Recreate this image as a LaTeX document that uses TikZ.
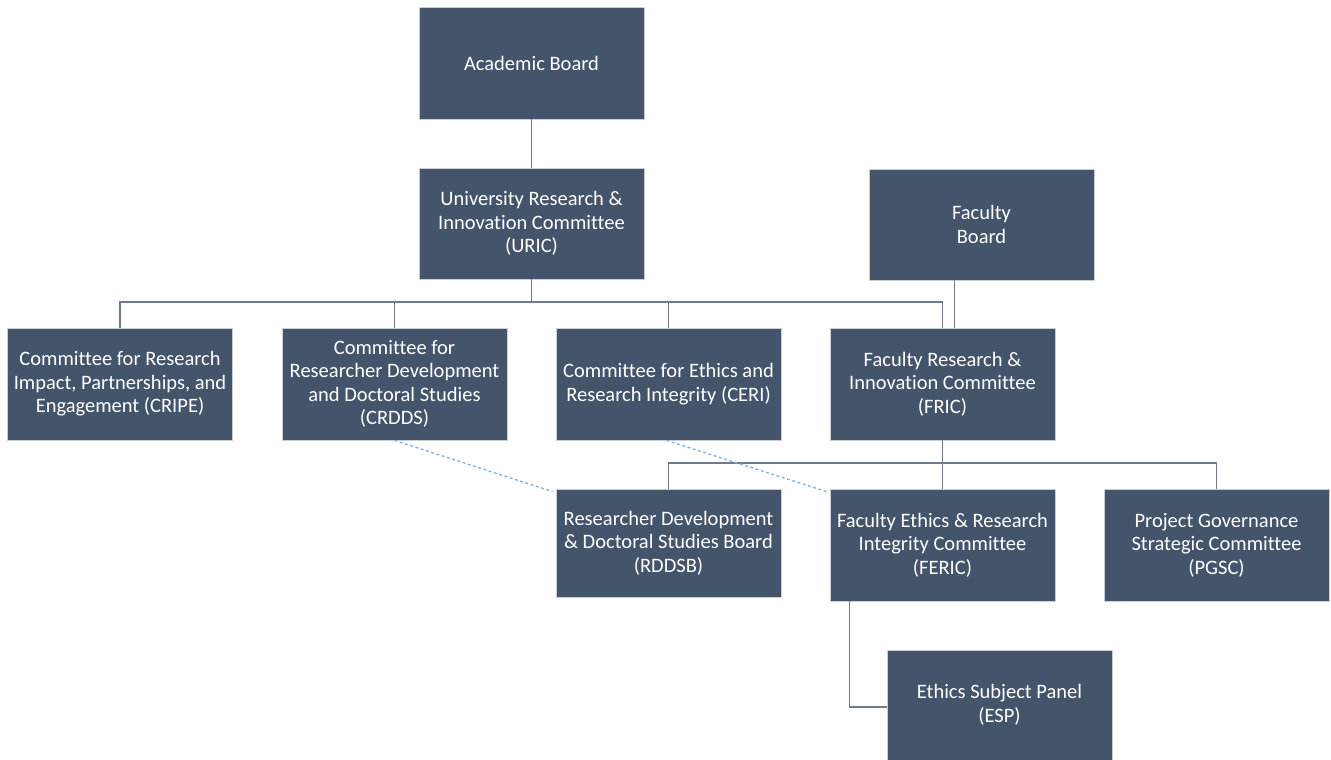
\documentclass[tikz,border=0pt]{standalone}
\usepackage{fontspec}
\setmainfont{Carlito}[Ligatures=NoCommon]
\usetikzlibrary{calc}
\definecolor{boxfill}{HTML}{44546A}
\definecolor{boxedge}{HTML}{C9CED6}
\definecolor{linec}{HTML}{6F7B8D}
\definecolor{dotc}{HTML}{7FB2E2}
\tikzset{
  orgbox/.style={draw=boxedge, line width=0.8pt, fill=boxfill, text=white, minimum width=225pt, minimum height=112pt, inner sep=0pt, align=center, font=\fontsize{20.5}{23.5}\selectfont},
  conn/.style={draw=linec, line width=1.6pt},
  dotconn/.style={draw=dotc, line width=1.3pt, dash pattern=on 3pt off 2.5pt}
}
\begin{document}
\begin{tikzpicture}[x=1pt,y=-1pt]
\useasboundingbox (0,0) rectangle (1331,760);
\begin{scope}
\clip (0,0) rectangle (1331,760);
\node[orgbox] (ab) at (531.5,63) {Academic Board};
\node[orgbox, minimum height=111pt] (uric) at (531.5,223.5) {University Research \&\\Innovation Committee\\(URIC)};
\node[orgbox, minimum height=111pt] (fb) at (981.5,224.5) {Faculty\\Board};
\node[orgbox] (cripe) at (120,384) {Committee for Research\\Impact, Partnerships, and\\Engagement (CRIPE)};
\node[orgbox] (crdds) at (394.5,384) {Committee for\\Researcher Development\\and Doctoral Studies\\(CRDDS)};
\node[orgbox] (ceri) at (668.5,384) {Committee for Ethics and\\Research Integrity (CERI)};
\node[orgbox] (fric) at (942.5,384) {Faculty Research \&\\Innovation Committee\\(FRIC)};
\node[orgbox, minimum height=108pt] (rddsb) at (668.5,543) {Researcher Development\\\& Doctoral Studies Board\\(RDDSB)};
\node[orgbox] (feric) at (942.5,545) {Faculty Ethics \& Research\\Integrity Committee\\(FERIC)};
\node[orgbox] (pgsc) at (1216.5,545) {Project Governance\\Strategic Committee\\(PGSC)};
\node[orgbox, minimum height=110pt] (esp) at (999.5,705) {Ethics Subject Panel\\(ESP)};
\end{scope}
% connectors
\draw[conn] (ab.south) -- (uric.north);
\coordinate (bus1) at (0,302);
\coordinate (bus2) at (0,463);
\draw[conn] (uric.south) -- (uric.south |- bus1);
\draw[conn] (cripe.north) |- (fric.north |- bus1) -- (fric.north);
\draw[conn] (crdds.north) -- (crdds.north |- bus1);
\draw[conn] (ceri.north) -- (ceri.north |- bus1);
\coordinate (fbx) at ($(fb.south)+(-27,0)$);
\draw[conn] (fbx) -- (fbx |- fric.north);
\draw[conn] (fric.south) -- (fric.south |- bus2);
\draw[conn] (rddsb.north) |- (pgsc.north |- bus2) -- (pgsc.north);
\draw[conn] (feric.north) -- (feric.north |- bus2);
\coordinate (ferx) at ($(feric.south west)+(20,0)$);
\draw[conn] (ferx) |- (esp.west |- 0,707);
\draw[dotconn] (crdds.south) -- ($(rddsb.north west)+(-3,3)$);
\draw[dotconn] ($(ceri.south)+(-2,0)$) -- ($(feric.north west)+(-3,3)$);
\end{tikzpicture}
\end{document}
